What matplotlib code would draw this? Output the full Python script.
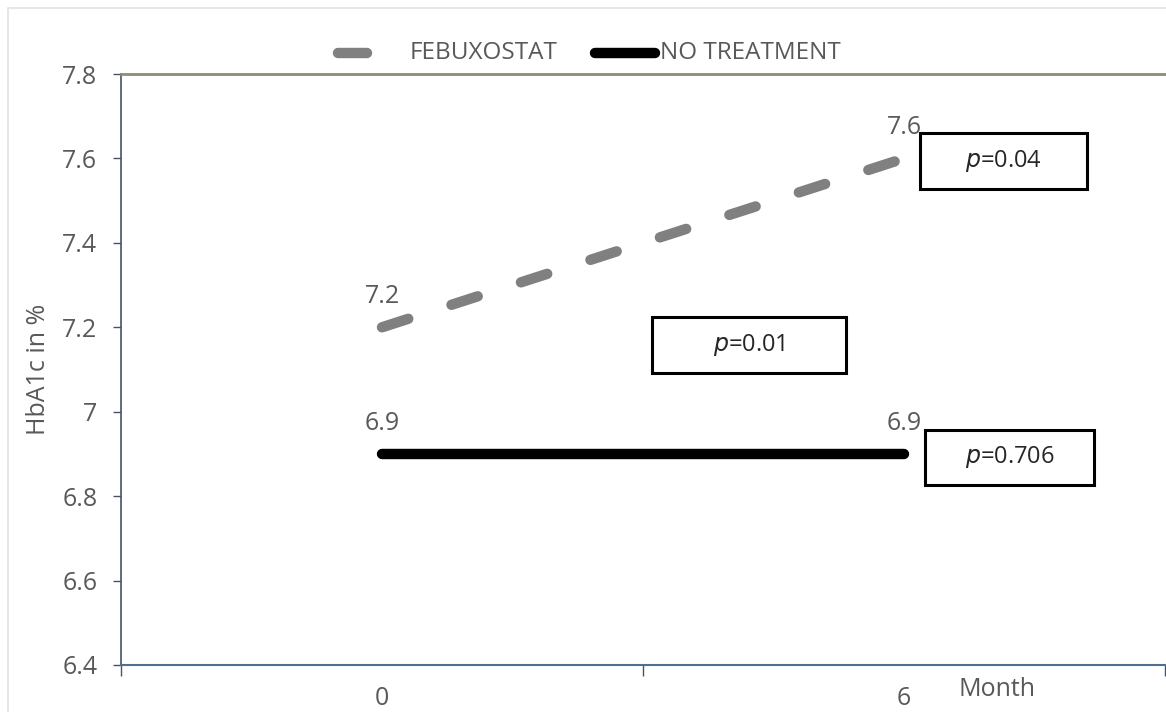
import matplotlib
matplotlib.use("Agg")
import matplotlib.pyplot as plt
from matplotlib.patches import Rectangle
from matplotlib.lines import Line2D

# ---- data ----
months = ["0", "6"]
febuxostat = [7.2, 7.6]
no_treatment = [6.9, 6.9]
series_names = ["FEBUXOSTAT", "NO TREATMENT"]
y_ticks = [6.4, 6.6, 6.8, 7.0, 7.2, 7.4, 7.6, 7.8]
y_tick_labels = ["6.4", "6.6", "6.8", "7", "7.2", "7.4", "7.6", "7.8"]
p_texts = ["=0.04", "=0.01", "=0.706"]

plt.rcParams['font.family'] = ['Open Sans', 'DejaVu Sans']
TXT = '#595959'

W, H = 1166, 712
fig = plt.figure(figsize=(W / 100, H / 100), dpi=100)
fig.patch.set_facecolor('white')

# outer light frame
fig.add_artist(Rectangle((8 / W, -0.05), 1.1, 1 - 8 / H + 0.05, transform=fig.transFigure,
                         fill=False, edgecolor='#e3e3e3', linewidth=1.2))

ax_l, ax_r, ax_t, ax_b = 121, 1165, 74, 665
ax = fig.add_axes([ax_l / W, 1 - ax_b / H, (ax_r - ax_l) / W, (ax_b - ax_t) / H])
ax.set_facecolor('white')

x = list(range(len(months)))
l1, = ax.plot(x, febuxostat, color='#808080', linewidth=7.5, linestyle=(0, (2.65, 4.36)),
              dash_capstyle='round', solid_capstyle='round', zorder=3)
l2, = ax.plot(x, no_treatment, color='black', linewidth=7.5, solid_capstyle='round', zorder=3)

ax.set_xlim(-0.5, len(months) - 0.5)
ax.set_ylim(6.4, 7.8)

# data labels
for xi, v in zip(x, febuxostat):
    ax.annotate(f"{v:g}", (xi, v), xytext=(0, 22), textcoords='offset points',
                ha='center', va='center', fontsize=18, color=TXT)
for xi, v in zip(x, no_treatment):
    ax.annotate(f"{v:g}", (xi, v), xytext=(0, 22), textcoords='offset points',
                ha='center', va='center', fontsize=18, color=TXT)

# spines
ax.spines['right'].set_visible(False)
ax.spines['left'].set_color('#44546a')
ax.spines['left'].set_linewidth(1.2)
ax.spines['bottom'].set_color('#4f6f8f')
ax.spines['bottom'].set_linewidth(1.5)
ax.spines['top'].set_color('#8c8c7c')
ax.spines['top'].set_linewidth(2.0)

ax.set_yticks(y_ticks)
ax.set_yticklabels(y_tick_labels)
ax.tick_params(axis='y', direction='out', length=6, width=1, color='#44546a',
               labelsize=18, labelcolor=TXT, pad=11)

ax.set_xticks(x)
ax.set_xticklabels(months)
ax.tick_params(axis='x', which='major', length=0, labelsize=18, labelcolor=TXT, pad=15)
ax.set_xticks([-0.5, 0.5, 1.5], minor=True)
ax.tick_params(axis='x', which='minor', direction='out', length=8, width=1, color='#44546a')

ax.set_ylabel("HbA1c in %", fontsize=18, color=TXT, labelpad=8)
fig.text(997 / W, 1 - 689 / H, "Month", fontsize=18, color=TXT, ha='center', va='center')

# p-value boxes (pixel boxes -> axes fraction)
boxes = [(920, 1087, 133, 189), (652, 846, 317, 373), (925, 1094, 430, 485)]
for (x0, x1, y0, y1), t in zip(boxes, p_texts):
    fx0 = (x0 - ax_l) / (ax_r - ax_l)
    fx1 = (x1 - ax_l) / (ax_r - ax_l)
    fy0 = (ax_b - y1) / (ax_b - ax_t)
    fy1 = (ax_b - y0) / (ax_b - ax_t)
    ax.add_patch(Rectangle((fx0, fy0), fx1 - fx0, fy1 - fy0, transform=ax.transAxes,
                           fill=True, facecolor='white', edgecolor='black', linewidth=2.2,
                           zorder=4, clip_on=False))
    ax.text((fx0 + fx1) / 2, (fy0 + fy1) / 2, r"$\it{p}$" + t, transform=ax.transAxes,
            ha='center', va='center', fontsize=17, color='#262626', zorder=5)

# legend drawn manually at top
ly = 1 - 53 / H
fig.add_artist(Line2D([338 / W, 367 / W], [ly, ly], transform=fig.transFigure,
                      color='#808080', linewidth=7.5, solid_capstyle='round'))
fig.text(410 / W, ly, series_names[0], fontsize=17.5, color=TXT, ha='left', va='center')
fig.add_artist(Line2D([595 / W, 655 / W], [ly, ly], transform=fig.transFigure,
                      color='black', linewidth=7.5, solid_capstyle='round'))
fig.text(660 / W, ly, series_names[1], fontsize=17.5, color=TXT, ha='left', va='center')

fig.savefig("out.png", dpi=100, facecolor='white')
